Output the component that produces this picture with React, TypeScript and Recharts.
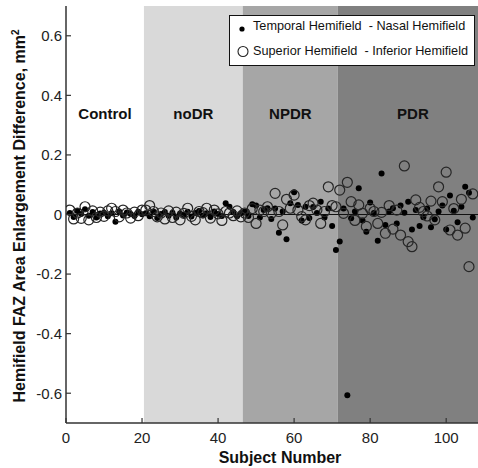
import React from 'react';
import { ScatterChart, Scatter, XAxis, YAxis, ReferenceArea, ReferenceLine, Legend } from 'recharts';

// Temporal Hemifield - Nasal Hemifield (filled dots), by group
const controlTN = [0.005, -0.008, 0.012, 0.002, 0.018, -0.004, 0.008, -0.010, 0.003, 0.006, -0.006, 0.004, -0.024, 0.010, -0.003, 0.007, 0.002, -0.005, 0.009, 0.001];
const noDRTN = [0.004, -0.006, 0.010, -0.012, 0.002, 0.008, -0.004, 0.006, -0.010, 0.003, -0.002, 0.009, -0.007, 0.005, 0.012, -0.003, 0.004, -0.008, 0.010, 0.002, -0.005, 0.038, 0.026, 0.008, -0.006, 0.004];
const npdrTN = [0.010, -0.005, 0.034, 0.030, -0.010, 0.015, 0.021, -0.015, 0.020, -0.061, 0.010, -0.083, 0.038, 0.075, 0.032, -0.020, 0.026, -0.012, 0.025, 0.005, 0.043, -0.010, 0.020, -0.039, -0.119];
const pdrTN = [-0.091, 0.020, -0.607, -0.013, 0.010, 0.088, -0.020, -0.058, 0.040, 0.005, -0.088, 0.138, -0.035, 0.010, 0.021, -0.030, 0.030, 0.006, 0.043, -0.050, 0.015, -0.039, -0.009, 0.020, -0.043, -0.016, 0.010, 0.030, -0.050, 0.064, 0.013, -0.026, 0.026, 0.093, 0.073, -0.010];

// Superior Hemifield - Inferior Hemifield (open circles), by group
const controlSI = [0.015, -0.015, 0.005, -0.013, 0.026, -0.018, 0.012, -0.010, 0.008, -0.006, 0.012, 0.021, 0.010, -0.008, 0.015, 0.005, -0.012, 0.008, -0.004, 0.015];
const noDRSI = [0.015, 0.030, 0.010, -0.008, 0.005, -0.015, 0.012, -0.010, 0.008, -0.018, 0.004, 0.021, -0.006, -0.018, 0.010, 0.006, 0.021, -0.012, 0.015, 0.002, -0.020, 0.010, 0.005, -0.004, 0.012, -0.008];
const npdrSI = [0.005, -0.010, 0.020, -0.030, 0.015, 0.010, 0.026, 0.004, 0.071, 0.010, -0.035, 0.051, 0.021, 0.065, 0.015, -0.007, -0.018, 0.030, 0.038, 0.015, -0.030, 0.010, 0.093, 0.030, 0.026];
const pdrSI = [0.082, 0.004, 0.108, 0.043, -0.020, 0.032, 0.004, -0.040, 0.021, 0.010, -0.030, 0.007, -0.063, 0.030, -0.049, 0.015, -0.069, 0.163, -0.091, -0.108, 0.049, 0.024, 0.010, -0.005, 0.045, -0.018, 0.093, 0.043, 0.142, -0.052, 0.020, -0.069, 0.051, -0.046, -0.175, 0.069];

const groupNames = ['Control', 'noDR', 'NPDR', 'PDR'];
const groupBounds = [0, 20.5, 46.5, 71.5, 111];
const groupFills = ['#ffffff', '#d9d9d9', '#a6a6a6', '#808080'];

const xTicks = [0, 20, 40, 60, 80, 100];
const yTicks = [-0.6, -0.4, -0.2, 0, 0.2, 0.4, 0.6];

const seriesNames = ['Temporal Hemifield  - Nasal Hemifield', 'Superior Hemifield  - Inferior Hemifield'];

const temporalNasal = [...controlTN, ...noDRTN, ...npdrTN, ...pdrTN];
const superiorInferior = [...controlSI, ...noDRSI, ...npdrSI, ...pdrSI];
const tnData = temporalNasal.map((v, i) => ({ subject: i + 1, value: v }));
const siData = superiorInferior.map((v, i) => ({ subject: i + 1, value: v }));

const FONT = '"Liberation Sans", Arial, sans-serif';
const AXIS = '#333';

const fmt = (v: number) => (v === 0 ? '0' : v.toFixed(1));

const YTick = (props: any) => {
  const { x, y, payload } = props;
  return (
    <g>
      <line x1={x} x2={x + 5} y1={y} y2={y} stroke={AXIS} strokeWidth={1.2} />
      <text x={x - 4} y={y} dy="0.355em" textAnchor="end" fontSize={15} fill="#222" fontFamily={FONT}>
        {fmt(payload.value)}
      </text>
    </g>
  );
};

const XTick = (props: any) => {
  const { x, y, payload } = props;
  return (
    <g>
      <line x1={x} x2={x} y1={y} y2={y - 5} stroke={AXIS} strokeWidth={1.2} />
      <text x={x} y={y + 9.7} dy="0.71em" textAnchor="middle" fontSize={15} fill="#222" fontFamily={FONT}>
        {payload.value}
      </text>
    </g>
  );
};

const DotShape = (props: any) => <circle cx={props.cx} cy={props.cy} r={3} fill="#000" />;
const RingShape = (props: any) => (
  <circle cx={props.cx} cy={props.cy} r={5} fill="none" stroke="#262626" strokeWidth={1.2} />
);

const LegendBox = () => (
  <div
    style={{
      boxSizing: 'border-box',
      width: 246,
      height: 51,
      border: '1px solid #111',
      background: '#fff',
      position: 'relative',
    }}
  >
    <svg width={246} height={51} style={{ position: 'absolute', left: -1, top: -1 }}>
      <circle cx={13} cy={14} r={2.6} fill="#000" />
      <circle cx={14} cy={36.5} r={5} fill="none" stroke="#222" strokeWidth={1.1} />
      <text x={24} y={15} fontSize={12.7} fill="#111" fontFamily={FONT} style={{ whiteSpace: 'pre' }}>
        {seriesNames[0]}
      </text>
      <text x={24} y={40} fontSize={12.7} fill="#111" fontFamily={FONT} style={{ whiteSpace: 'pre' }}>
        {seriesNames[1]}
      </text>
    </svg>
  </div>
);

const YLabel = (props: any) => {
  const vb = props.viewBox;
  const x = vb.x + 25;
  const y = vb.y + vb.height / 2 + 1.5;
  return (
    <text
      x={x}
      y={y}
      transform={`rotate(-90, ${x}, ${y})`}
      textAnchor="middle"
      fontSize={16}
      fontWeight="bold"
      fill="#111"
      fontFamily={FONT}
    >
      Hemifield FAZ Area Enlargement Difference, mm
      <tspan dy={-6} fontSize={10}>2</tspan>
    </text>
  );
};

const XLabel = (props: any) => {
  const vb = props.viewBox;
  return (
    <text
      x={vb.x + vb.width / 2 + 3}
      y={vb.y + 40}
      textAnchor="middle"
      fontSize={16}
      fontWeight="bold"
      fill="#111"
      fontFamily={FONT}
    >
      Subject Number
    </text>
  );
};

export default function App() {
  return (
    <div style={{ position: 'absolute', left: 0, top: 0, width: 478, height: 468, overflow: 'hidden', background: '#fff' }}>
      <ScatterChart width={488} height={468} margin={{ top: 6, right: 0, bottom: 0, left: 0 }}>
        <XAxis
          dataKey="subject"
          type="number"
          domain={[0, 111]}
          ticks={xTicks}
          height={45}
          tickSize={0}
          tickMargin={0}
          tick={<XTick />}
          axisLine={{ stroke: AXIS, strokeWidth: 1.5 }}
          tickLine={false}
          allowDataOverflow
          label={{ content: <XLabel /> } as any}
        />
        <XAxis
          xAxisId="top"
          orientation="top"
          type="number"
          domain={[0, 111]}
          height={0}
          tick={false}
          tickLine={false}
          axisLine={{ stroke: AXIS, strokeWidth: 1.5 }}
        />
        <YAxis
          dataKey="value"
          type="number"
          domain={[-0.7, 0.7]}
          ticks={yTicks}
          width={66}
          tickSize={0}
          tickMargin={0}
          tick={<YTick />}
          axisLine={{ stroke: AXIS, strokeWidth: 1.5 }}
          tickLine={false}
          allowDataOverflow
          label={{ content: <YLabel /> } as any}
        />
        {groupNames.map((name, i) => (
          <ReferenceArea
            key={name}
            x1={groupBounds[i]}
            x2={groupBounds[i + 1]}
            y1={-0.7}
            y2={0.7}
            fill={groupFills[i]}
            fillOpacity={1}
            stroke="none"
            label={{
              value: name,
              position: 'insideTop',
              offset: 102,
              fill: '#111',
              fontSize: 15,
              fontWeight: 'bold',
              fontFamily: FONT,
            }}
          />
        ))}
        <ReferenceLine y={0} stroke="#111" strokeWidth={1.2} />
        <Legend
          layout="vertical"
          align="center"
          verticalAlign="middle"
          content={<LegendBox />}
          wrapperStyle={{ position: 'absolute', left: 229, top: 15, width: 246, height: 51 }}
        />
        <Scatter name={seriesNames[0]} data={tnData} shape={DotShape} isAnimationActive={false} />
        <Scatter name={seriesNames[1]} data={siData} shape={RingShape} isAnimationActive={false} />
      </ScatterChart>
    </div>
  );
}
